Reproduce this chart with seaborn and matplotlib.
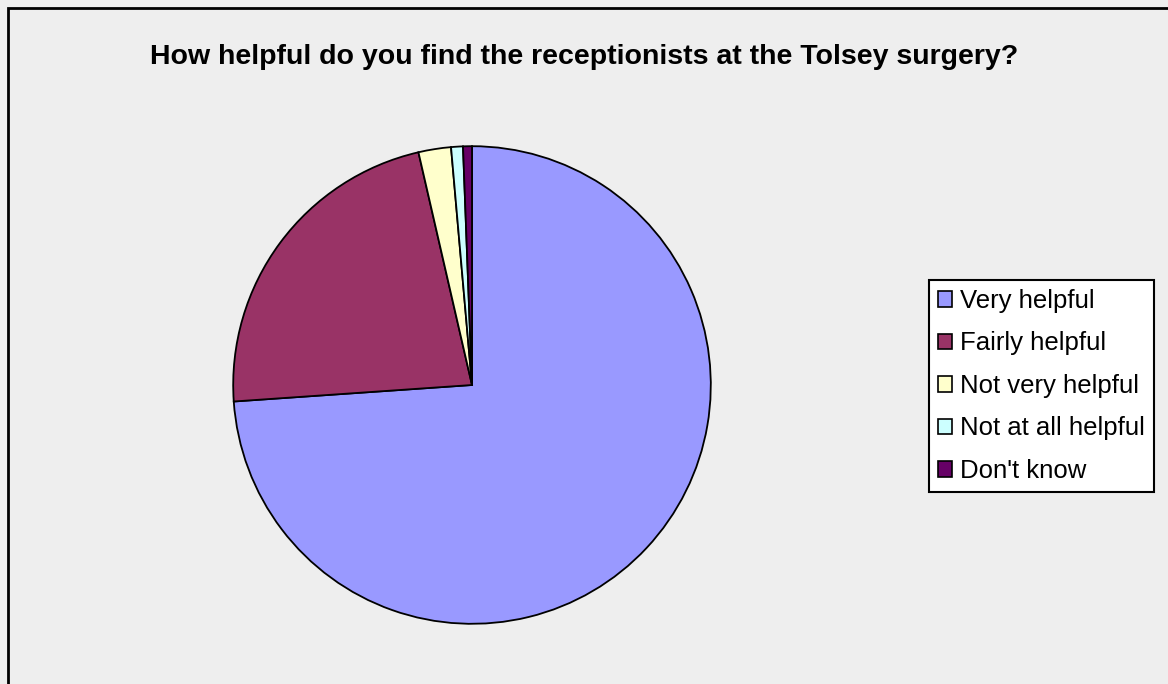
import matplotlib
matplotlib.use("Agg")
import matplotlib.pyplot as plt
import seaborn as sns
from matplotlib.patches import Rectangle

# Dados (percentagens aproximadas)
categorias = ["Very helpful", "Fairly helpful", "Not very helpful",
              "Not at all helpful", "Don't know"]
valores = [73.9, 22.5, 2.2, 0.8, 0.6]
cores = ["#9999FF", "#993366", "#FFFFCC", "#CCFFFF", "#660066"]

sns.set_style("white")
plt.rcParams["font.family"] = ["Liberation Sans", "DejaVu Sans"]
plt.rcParams["text.color"] = "black"

fig = plt.figure(figsize=(11.68, 6.84), dpi=100)
fig.patch.set_facecolor("#EEEEEE")

# Moldura: apenas bordas superior e esquerda visíveis
fig.add_artist(Rectangle((8 / 1168, -0.1), 1.2, 1 - 8 / 684 + 0.1,
                         transform=fig.transFigure, fill=False,
                         edgecolor="black", linewidth=2))

ax = fig.add_axes([232 / 1168, 59 / 684, 480 / 1168, 480 / 684])
ax.set_facecolor("#EEEEEE")
fatias, _ = ax.pie(valores, colors=cores, startangle=90, counterclock=False,
                   wedgeprops={"edgecolor": "black", "linewidth": 1.3})
ax.set_aspect("equal")
ax.set_xlim(-1.005, 1.005)
ax.set_ylim(-1.005, 1.005)
ax.axis("off")

fig.text(0.5, 1 - 57 / 684, "How helpful do you find the receptionists at the Tolsey surgery?",
         ha="center", va="center", fontsize=20.5, fontweight="bold", color="black")

leg = fig.legend(fatias, categorias, loc="upper left",
                 bbox_to_anchor=(929 / 1168, 1 - 280 / 684),
                 fontsize=18.5, frameon=True, fancybox=False,
                 edgecolor="black", facecolor="white", framealpha=1,
                 handlelength=0.55, handleheight=0.55, handletextpad=0.3,
                 labelspacing=0.72, borderpad=0.35, borderaxespad=0)
leg.get_frame().set_linewidth(1.5)
for t in leg.get_texts():
    t.set_color("black")
for h in leg.legend_handles:
    h.set_edgecolor("black")
    h.set_linewidth(1.2)

fig.savefig("out.png", dpi=100, facecolor=fig.get_facecolor())
